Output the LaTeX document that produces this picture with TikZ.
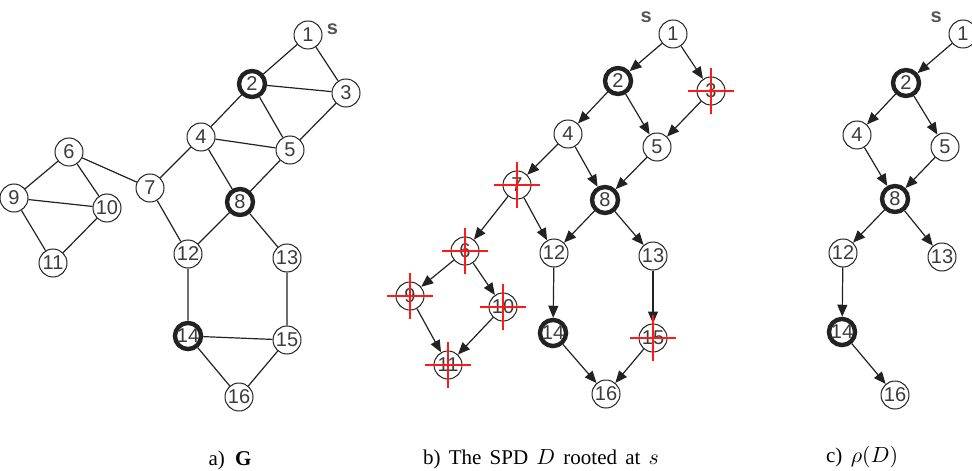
\documentclass[tikz,border=0pt]{standalone}
\usepackage{fontspec}
\setmainfont{Liberation Serif}
\setsansfont{Liberation Sans}
\usetikzlibrary{positioning, arrows.meta}
\definecolor{spdline}{HTML}{222222}
\definecolor{spdtext}{HTML}{3C3C3C}
\definecolor{spdgray}{HTML}{555555}
\definecolor{spdred}{HTML}{FF1A1A}
\newcommand{\redcross}[1]{%
  \draw[xmark] ([xshift=-11.5pt]#1.center) -- ([xshift=11.5pt]#1.center)
               ([yshift=-11.5pt]#1.center) -- ([yshift=11.5pt]#1.center);}

\begin{document}
\begin{tikzpicture}[x=0.5pt, y=-0.5pt,
    vtx/.style={circle, draw=spdline, line width=0.5pt, fill=white, text=spdtext,
                font=\sffamily\fontsize{10}{10}\selectfont, minimum size=14pt, inner sep=0pt},
    hub/.style={vtx, line width=2.2pt, minimum size=13pt},
    link/.style={draw=spdline, line width=0.6pt},
    arc/.style={link, -{Triangle[length=6pt, width=5pt]}},
    xmark/.style={draw=spdred, line width=0.8pt},
    slabel/.style={text=spdgray, font=\sffamily\bfseries\fontsize{10}{10}\selectfont, inner sep=0pt},
    caption/.style={font=\fontsize{10.5}{12}\selectfont, text=black}]
        \useasboundingbox (0,0) rectangle (972,470);

        % a) the graph G
        \node[vtx] (a1) at (308,35) {1};
        \node[hub] (a2) at (252,84) {2};
        \node[vtx] (a3) at (346,93) {3};
        \node[vtx] (a4) at (201,137) {4};
        \node[vtx] (a5) at (290,150) {5};
        \node[vtx] (a6) at (69,152) {6};
        \node[vtx] (a7) at (150,188) {7};
        \node[hub] (a8) at (240,202) {8};
        \node[vtx] (a9) at (14,198) {9};
        \node[vtx] (a10) at (107,208) {10};
        \node[vtx] (a11) at (53,263) {11};
        \node[vtx] (a12) at (188,254) {12};
        \node[vtx] (a13) at (287,258) {13};
        \node[hub] (a14) at (188,336) {14};
        \node[vtx] (a15) at (287,340) {15};
        \node[vtx] (a16) at (239,397) {16};
        \node[slabel, right=2pt of a1, yshift=3pt] (sa) {s};
        \draw[link] (a1) -- (a2) (a1) -- (a3) (a2) -- (a3) (a2) -- (a4) (a2) -- (a5)
                    (a3) -- (a5) (a4) -- (a5) (a4) -- (a7) (a4) -- (a8) (a5) -- (a8)
                    (a6) -- (a7) (a6) -- (a9) (a6) -- (a10) (a9) -- (a10) (a9) -- (a11)
                    (a10) -- (a11) (a7) -- (a12) (a8) -- (a12) (a8) -- (a13)
                    (a12) -- (a14) (a13) -- (a15) (a14) -- (a15) (a14) -- (a16) (a15) -- (a16);

        % b) the SPD D
        \node[vtx] (b1) at (673,34) {1};
        \node[hub] (b2) at (618,81) {2};
        \node[vtx] (b3) at (711,91) {3};
        \node[vtx] (b4) at (568,134) {4};
        \node[vtx] (b5) at (657,147) {5};
        \node[vtx] (b6) at (465,251) {6};
        \node[vtx] (b7) at (517,185) {7};
        \node[hub] (b8) at (605,200) {8};
        \node[vtx] (b9) at (410,296) {9};
        \node[vtx] (b10) at (503,307) {10};
        \node[vtx] (b11) at (448,365) {11};
        \node[vtx] (b12) at (554,253) {12};
        \node[vtx] (b13) at (653,256) {13};
        \node[hub] (b14) at (553,333) {14};
        \node[vtx] (b15) at (653,338) {15};
        \node[vtx] (b16) at (606,394) {16};
        \node[slabel, above left=0.5pt and 5.3pt of b1] (sb) {s};
        \draw[arc] (b1) -- (b2);
        \draw[arc] (b1) -- (b3);
        \draw[arc] (b2) -- (b4);
        \draw[arc] (b2) -- (b5);
        \draw[arc] (b3) -- (b5);
        \draw[arc] (b4) -- (b7);
        \draw[arc] (b4) -- (b8);
        \draw[arc] (b5) -- (b8);
        \draw[arc] (b7) -- (b6);
        \draw[arc] (b7) -- (b12);
        \draw[arc] (b8) -- (b12);
        \draw[arc] (b8) -- (b13);
        \draw[arc] (b6) -- (b9);
        \draw[arc] (b6) -- (b10);
        \draw[arc] (b9) -- (b11);
        \draw[arc] (b10) -- (b11);
        \draw[arc] (b12) -- (b14);
        \draw[arc] (b13) -- (b15);
        \draw[arc] (b14) -- (b16);
        \draw[arc] (b15) -- (b16);
        \redcross{b3}
        \redcross{b7}
        \redcross{b6}
        \redcross{b9}
        \redcross{b10}
        \redcross{b11}
        \redcross{b15}

        % c) rho(D)
        \node[vtx] (c1) at (963,34) {1};
        \node[hub] (c2) at (906,83) {2};
        \node[vtx] (c4) at (857,135) {4};
        \node[vtx] (c5) at (945,147) {5};
        \node[hub] (c8) at (895,199) {8};
        \node[vtx] (c12) at (843,253) {12};
        \node[vtx] (c13) at (942,257) {13};
        \node[hub] (c14) at (842,332) {14};
        \node[vtx] (c16) at (895,395) {16};
        \node[slabel, above left=0.5pt and 5.3pt of c1] (sc) {s};
        \draw[arc] (c1) -- (c2);
        \draw[arc] (c2) -- (c4);
        \draw[arc] (c2) -- (c5);
        \draw[arc] (c4) -- (c8);
        \draw[arc] (c5) -- (c8);
        \draw[arc] (c8) -- (c12);
        \draw[arc] (c8) -- (c13);
        \draw[arc] (c12) -- (c14);
        \draw[arc] (c14) -- (c16);

        \node[caption] (capa) at (230,460) {\makebox[21.5pt][s]{a) \textbf{G}}};
        \node[caption] (capb) at (541,459) {\makebox[118pt][s]{b) The SPD $D$ rooted at $s$}};
        \node[caption] (capc) at (862,457) {\makebox[36pt][s]{c) $\rho(D)$}};
      \end{tikzpicture}
\end{document}
